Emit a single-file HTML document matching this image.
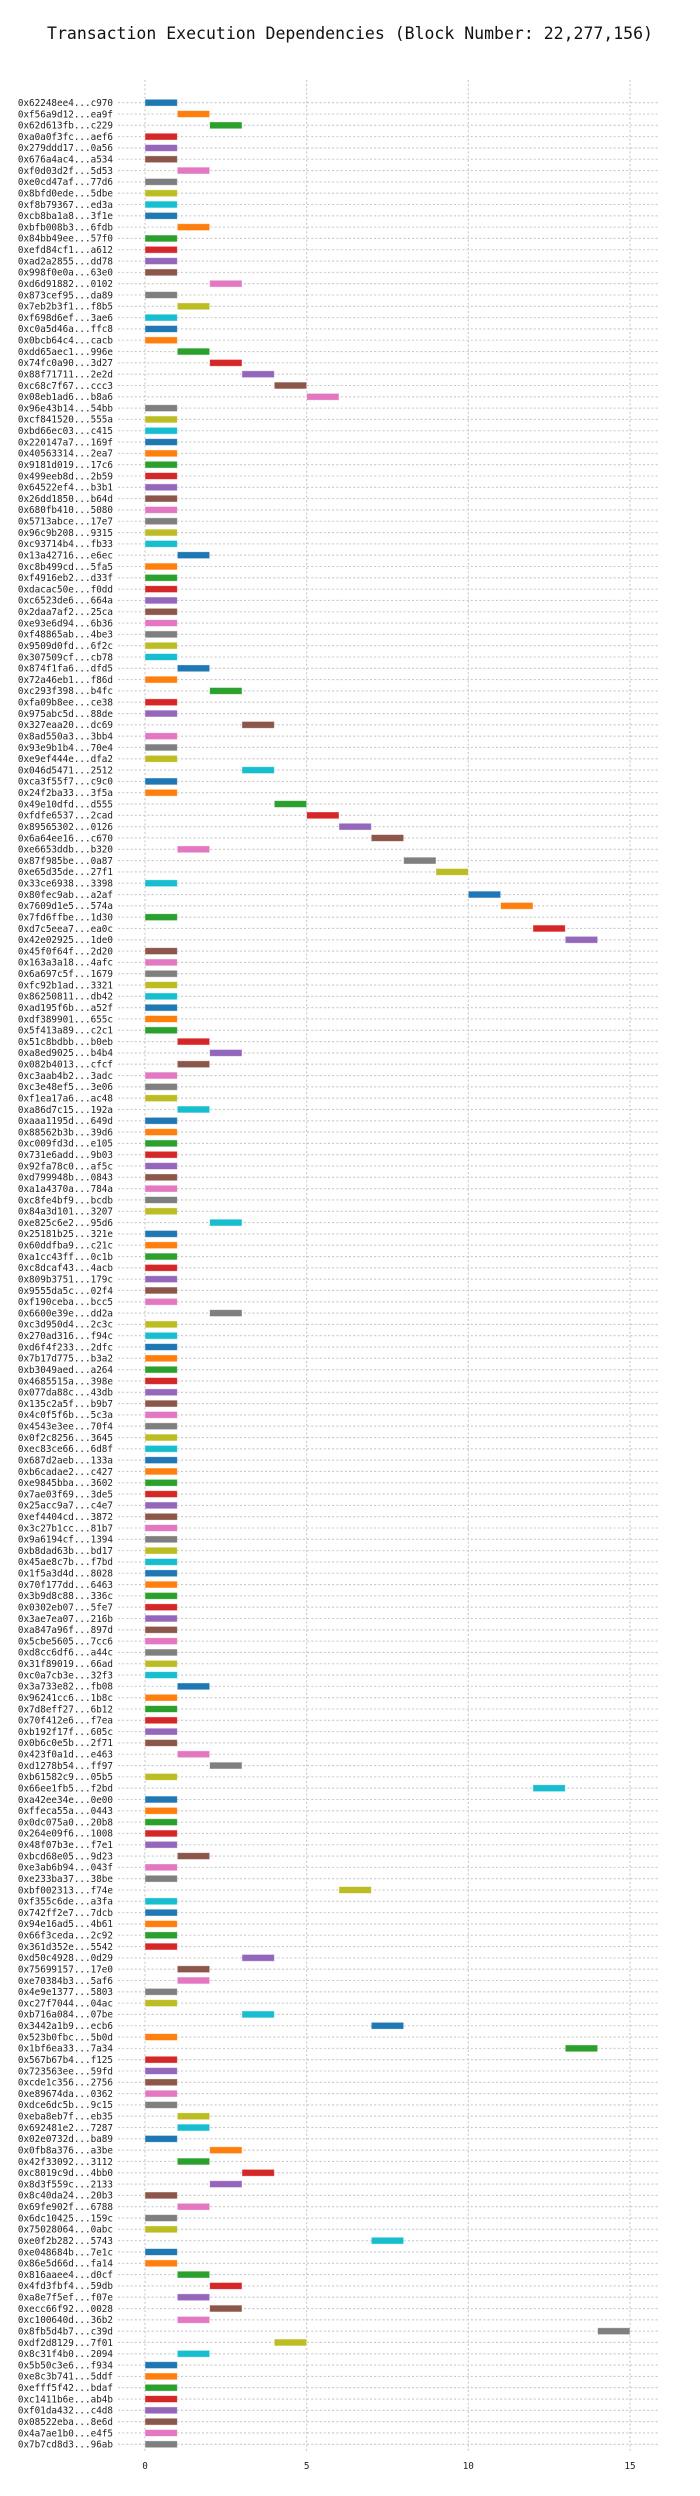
<!DOCTYPE html>
<html><head><meta charset="utf-8"><style>
html,body{margin:0;padding:0;background:#fff;width:700px;height:2496px;overflow:hidden}
svg{display:block}
text{font-family:"DejaVu Sans Mono","Liberation Mono",monospace}
</style></head><body>
<svg id="chart" width="700" height="2496" viewBox="0 0 700 2496" xmlns="http://www.w3.org/2000/svg">
<text x="350" y="39" text-anchor="middle" font-size="16.5" fill="#111">Transaction Execution Dependencies (Block Number: 22,277,156)</text>
<g id="grid"></g>
<g id="bars"></g>
<g id="ylabels"></g>
<g id="xticks"></g>
</svg>
<script>
const txLabels = ["0x62248ee4...c970","0xf56a9d12...ea9f","0x62d613fb...c229","0xa0a0f3fc...aef6","0x279ddd17...0a56","0x676a4ac4...a534","0xf0d03d2f...5d53","0xe0cd47af...77d6","0x8bfd0ede...5dbe","0xf8b79367...ed3a",
"0xcb8ba1a8...3f1e","0xbfb008b3...6fdb","0x84bb49ee...57f0","0xefd84cf1...a612","0xad2a2855...dd78","0x998f0e0a...63e0","0xd6d91882...0102","0x873cef95...da89","0x7eb2b3f1...f8b5","0xf698d6ef...3ae6",
"0xc0a5d46a...ffc8","0x0bcb64c4...cacb","0xdd65aec1...996e","0x74fc0a90...3d27","0x88f71711...2e2d","0xc68c7f67...ccc3","0x08eb1ad6...b8a6","0x96e43b14...54bb","0xcf841520...555a","0xbd66ec03...c415",
"0x220147a7...169f","0x40563314...2ea7","0x9181d019...17c6","0x499eeb8d...2b59","0x64522ef4...b3b1","0x26dd1850...b64d","0x680fb410...5080","0x5713abce...17e7","0x96c9b208...9315","0xc93714b4...fb33",
"0x13a42716...e6ec","0xc8b499cd...5fa5","0xf4916eb2...d33f","0xdacac50e...f0dd","0xc6523de6...664a","0x2daa7af2...25ca","0xe93e6d94...6b36","0xf48865ab...4be3","0x9509d0fd...6f2c","0x307509cf...cb78",
"0x874f1fa6...dfd5","0x72a46eb1...f86d","0xc293f398...b4fc","0xfa09b8ee...ce38","0x975abc5d...88de","0x327eaa20...dc69","0x8ad550a3...3bb4","0x93e9b1b4...70e4","0xe9ef444e...dfa2","0x046d5471...2512",
"0xca3f55f7...c9c0","0x24f2ba33...3f5a","0x49e10dfd...d555","0xfdfe6537...2cad","0x89565302...0126","0x6a64ee16...c670","0xe6653ddb...b320","0x87f985be...0a87","0xe65d35de...27f1","0x33ce6938...3398",
"0x80fec9ab...a2af","0x7609d1e5...574a","0x7fd6ffbe...1d30","0xd7c5eea7...ea0c","0x42e02925...1de0","0x45f0f64f...2d20","0x163a3a18...4afc","0x6a697c5f...1679","0xfc92b1ad...3321","0x86250811...db42",
"0xad195f6b...a52f","0xdf389901...655c","0x5f413a89...c2c1","0x51c8bdbb...b0eb","0xa8ed9025...b4b4","0x082b4013...cfcf","0xc3aab4b2...3adc","0xc3e48ef5...3e06","0xf1ea17a6...ac48","0xa86d7c15...192a",
"0xaaa1195d...649d","0x88562b3b...39d6","0xc009fd3d...e105","0x731e6add...9b03","0x92fa78c0...af5c","0xd799948b...0843","0xa1a4370a...784a","0xc8fe4bf9...bcdb","0x84a3d101...3207","0xe825c6e2...95d6",
"0x25181b25...321e","0x60ddfba9...c21c","0xa1cc43ff...0c1b","0xc8dcaf43...4acb","0x809b3751...179c","0x9555da5c...02f4","0xf190ceba...bcc5","0x6600e39e...dd2a","0xc3d950d4...2c3c","0x270ad316...f94c",
"0xd6f4f233...2dfc","0x7b17d775...b3a2","0xb3049aed...a264","0x4685515a...398e","0x077da88c...43db","0x135c2a5f...b9b7","0x4c0f5f6b...5c3a","0x4543e3ee...70f4","0x0f2c8256...3645","0xec83ce66...6d8f",
"0x687d2aeb...133a","0xb6cadae2...c427","0xe9845bba...3602","0x7ae03f69...3de5","0x25acc9a7...c4e7","0xef4404cd...3872","0x3c27b1cc...81b7","0x9a6194cf...1394","0xb8dad63b...bd17","0x45ae8c7b...f7bd",
"0x1f5a3d4d...8028","0x70f177dd...6463","0x3b9d8c88...336c","0x0302eb07...5fe7","0x3ae7ea07...216b","0xa847a96f...897d","0x5cbe5605...7cc6","0xd8cc6df6...a44c","0x31f89019...66ad","0xc0a7cb3e...32f3",
"0x3a733e82...fb08","0x96241cc6...1b8c","0x7d8eff27...6b12","0x70f412e6...f7ea","0xb192f17f...605c","0x0b6c0e5b...2f71","0x423f0a1d...e463","0xd1278b54...ff97","0xb61582c9...05b5","0x66ee1fb5...f2bd",
"0xa42ee34e...0e00","0xffeca55a...0443","0x0dc075a0...20b8","0x264e09f6...1008","0x48f07b3e...f7e1","0xbcd68e05...9d23","0xe3ab6b94...043f","0xe233ba37...38be","0xbf002313...f74e","0xf355c6de...a3fa",
"0x742ff2e7...7dcb","0x94e16ad5...4b61","0x66f3ceda...2c92","0x361d352e...5542","0xd50c4928...0d29","0x75699157...17e0","0xe70384b3...5af6","0x4e9e1377...5803","0xc27f7044...04ac","0xb716a084...07be",
"0x3442a1b9...ecb6","0x523b0fbc...5b0d","0x1bf6ea33...7a34","0x567b67b4...f125","0x723563ee...59fd","0xcde1c356...2756","0xe89674da...0362","0xdce6dc5b...9c15","0xeba8eb7f...eb35","0x692481e2...7287",
"0x02e0732d...ba89","0x0fb8a376...a3be","0x42f33092...3112","0xc8019c9d...4bb0","0x8d3f559c...2133","0x8c40da24...20b3","0x69fe902f...6788","0x6dc10425...159c","0x75028064...0abc","0xe0f2b282...5743",
"0xe048684b...7e1c","0x86e5d66d...fa14","0x816aaee4...d0cf","0x4fd3fbf4...59db","0xa8e7f5ef...f07e","0xecc66f92...0028","0xc100640d...36b2","0x8fb5d4b7...c39d","0xdf2d8129...7f01","0x8c31f4b0...2094",
"0x5b50c3e6...f934","0xe8c3b741...5ddf","0xefff5f42...bdaf","0xc1411b6e...ab4b","0xf01da432...c4d8","0x08522eba...8e6d","0x4a7ae1b0...e4f5","0x7b7cd8d3...96ab"];
const startValues = [0,1,2,0,0,0,1,0,0,0, 0,1,0,0,0,0,2,0,1,0, 0,0,1,2,3,4,5,0,0,0, 0,0,0,0,0,0,0,0,0,0,
1,0,0,0,0,0,0,0,0,0, 1,0,2,0,0,3,0,0,0,3, 0,0,4,5,6,7,1,8,9,0, 10,11,0,12,13,0,0,0,0,0,
0,0,0,1,2,1,0,0,0,1, 0,0,0,0,0,0,0,0,0,2, 0,0,0,0,0,0,0,2,0,0, 0,0,0,0,0,0,0,0,0,0,
0,0,0,0,0,0,0,0,0,0, 0,0,0,0,0,0,0,0,0,0, 1,0,0,0,0,0,1,2,0,12, 0,0,0,0,0,1,0,0,6,0,
0,0,0,0,3,1,1,0,0,3, 7,0,13,0,0,0,0,0,1,1, 0,2,1,3,2,0,1,0,0,7, 0,0,1,2,1,2,1,14,4,1,
0,0,0,0,0,0,0,0];
const durations = startValues.map(() => 1);
const xTickValues = [0, 5, 10, 15];
const palette = ["#1f77b4","#ff7f0e","#2ca02c","#d62728","#9467bd","#8c564b","#e377c2","#7f7f7f","#bcbd22","#17becf"];

const NS = "http://www.w3.org/2000/svg";
const x0 = 145, pxPerUnit = 32.33, y0 = 102.7, rowH = 11.312;
const xScale = v => x0 + v * pxPerUnit;
const yScale = i => y0 + i * rowH;
const plotLeft = 118, plotRight = 658, gridTop = 80, gridBottom = 2453;

function mk(tag, attrs, parent) {
  const e = document.createElementNS(NS, tag);
  for (const k in attrs) e.setAttribute(k, attrs[k]);
  parent.appendChild(e);
  return e;
}
const grid = document.getElementById('grid');
const bars = document.getElementById('bars');
const ylabels = document.getElementById('ylabels');
const xticks = document.getElementById('xticks');

txLabels.forEach((lab, i) => {
  const y = yScale(i);
  const hl = mk('line', {x1: plotLeft, x2: plotRight, y1: y, y2: y, stroke: '#c8c8c8', 'stroke-width': 1.1, 'stroke-dasharray': '2,2.2'}, grid);
  
  
  const t = mk('text', {x: 113, y: y + 3.3, 'text-anchor': 'end', 'font-size': 9.3, fill: '#222'}, ylabels);
  t.textContent = lab;
  
  
});
xTickValues.forEach(v => {
  const x = xScale(v);
  const vl = mk('line', {x1: x, x2: x, y1: gridTop, y2: gridBottom, stroke: '#c8c8c8', 'stroke-width': 1.1, 'stroke-dasharray': '2,2.2'}, grid);
  
  
  const t = mk('text', {x: x, y: 2469, 'text-anchor': 'middle', 'font-size': 9.3, fill: '#222'}, xticks);
  t.textContent = String(v);
  
  
});
startValues.forEach((s, i) => {
  const y = yScale(i);
  const r = mk('rect', {x: xScale(s), y: y - 3.4, width: durations[i] * pxPerUnit, height: 6.8, fill: palette[i % 10], stroke: '#ffffff', 'stroke-opacity': 0.5, 'stroke-width': 0.8}, bars);
  
  
});
</script>
</body></html>
